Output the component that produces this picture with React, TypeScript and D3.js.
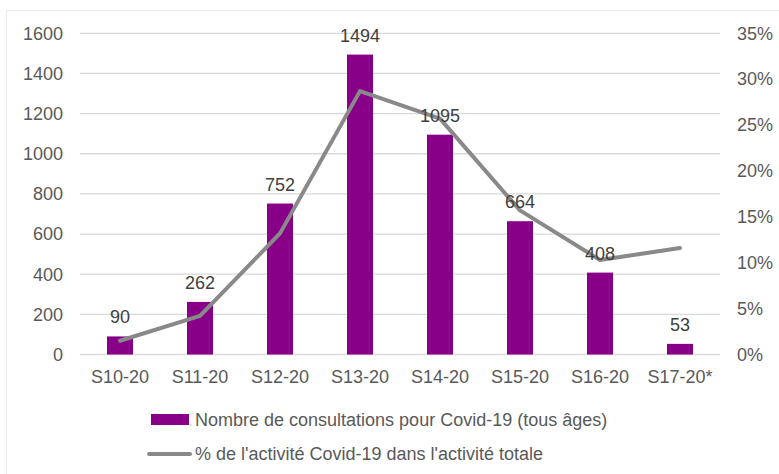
import React from "react";
import * as d3 from "d3";

const categories = ["S10-20", "S11-20", "S12-20", "S13-20", "S14-20", "S15-20", "S16-20", "S17-20*"];
const consultations = [90, 262, 752, 1494, 1095, 664, 408, 53];
const pctActivity = [1.5, 4.2, 13.2, 28.7, 25.7, 15.7, 10.3, 11.6];
const leftTicks = [0, 200, 400, 600, 800, 1000, 1200, 1400, 1600];
const rightTicks = [0, 5, 10, 15, 20, 25, 30, 35];
const legendLabels = [
  "Nombre de consultations pour Covid-19 (tous âges)",
  "% de l'activité Covid-19 dans l'activité totale",
];

const W = 779;
const H = 474;
const plot = { left: 80, right: 720, top: 33.3, bottom: 354.5 };
const PURPLE = "#880088";
const GRAY = "#898989";
const TEXT = "#595959";
const FONT = "'Liberation Sans', Arial, sans-serif";

export default function App() {
  const x = d3.scaleBand<string>().domain(categories).range([plot.left, plot.right]).paddingInner(0.675).paddingOuter(0.3375);
  const yL = d3.scaleLinear().domain([0, 1600]).range([plot.bottom, plot.top]);
  const yR = d3.scaleLinear().domain([0, 35]).range([plot.bottom, plot.top]);
  const xc = (c: string) => (x(c) as number) + x.bandwidth() / 2;
  const line = d3
    .line<number>()
    .x((_, i) => xc(categories[i]))
    .y((d) => yR(d));

  return (
    <svg width={W} height={H} style={{ position: "absolute", left: 0, top: 0, background: "#fff" }} fontFamily={FONT}>
      <rect x={6.5} y={10.5} width={W} height={H} fill="#fff" stroke="#ececec" />
      {leftTicks.map((t) => (
        <line key={"g" + t} x1={plot.left} x2={plot.right} y1={yL(t)} y2={yL(t)} stroke="#d9d9d9" strokeWidth={1.3} />
      ))}
      {leftTicks.map((t) => (
        <text key={"l" + t} x={63} y={yL(t)} dy="0.35em" textAnchor="end" fontSize={18} fill={TEXT}>
          {t}
        </text>
      ))}
      {rightTicks.map((t) => (
        <text key={"r" + t} x={737} y={yR(t)} dy="0.35em" textAnchor="start" fontSize={18} fill={TEXT}>
          {t + "%"}
        </text>
      ))}
      {categories.map((c, i) => (
        <rect key={"b" + c} x={x(c)} y={yL(consultations[i])} width={x.bandwidth()} height={plot.bottom - yL(consultations[i])} fill={PURPLE} />
      ))}
      <path d={line(pctActivity) || ""} fill="none" stroke={GRAY} strokeWidth={4} strokeLinejoin="round" strokeLinecap="round" />
      {categories.map((c, i) => (
        <text key={"v" + c} x={xc(c)} y={yL(consultations[i]) - 13} textAnchor="middle" fontSize={18} fill="#404040">
          {consultations[i]}
        </text>
      ))}
      {categories.map((c) => (
        <text key={"x" + c} x={xc(c)} y={383} textAnchor="middle" fontSize={18} fill={TEXT}>
          {c}
        </text>
      ))}
      <rect x={151} y={414} width={38} height={11} fill={PURPLE} />
      <text x={195} y={426} fontSize={18} fill={TEXT}>{legendLabels[0]}</text>
      <line x1={149} x2={190} y1={454} y2={454} stroke={GRAY} strokeWidth={4} strokeLinecap="round" />
      <text x={195} y={460} fontSize={18} fill={TEXT}>{legendLabels[1]}</text>
    </svg>
  );
}
